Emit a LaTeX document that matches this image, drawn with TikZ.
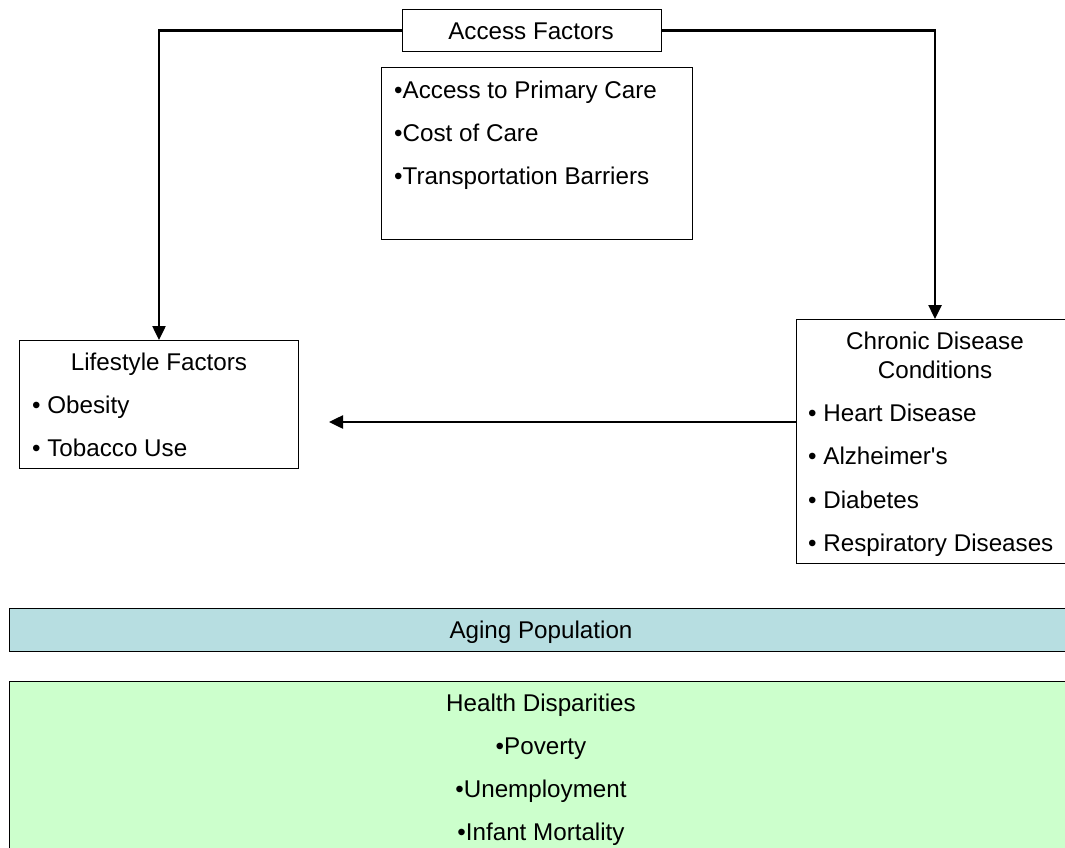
\documentclass[tikz,border=0pt]{standalone}
\usepackage{fontspec}
\setmainfont{Liberation Sans}[Ligatures=TeXOff]
\usetikzlibrary{arrows.meta}
\definecolor{agefill}{HTML}{B7DEE1}
\definecolor{healthfill}{HTML}{CCFFCC}
\tikzset{
  box/.style={draw=black, line width=1.2pt, inner sep=0pt, anchor=north west},
  txt/.style={inner sep=0pt, text height=17.5pt, text depth=0pt, font=\fontsize{24.2}{28}\selectfont},
  ltxt/.style={txt, anchor=west},
  conn/.style={draw=black, line width=2.5pt, -{Triangle[length=14pt,width=13pt]}},
}
\begin{document}
\begin{tikzpicture}[x=1pt,y=-1pt]
\useasboundingbox (0,0) rectangle (1065,848);
\begin{scope}
\clip (0,0) rectangle (1065,848);
% boxes
\node[box, minimum width=259pt, minimum height=42pt] (acc) at (402,9) {};
\node[box, minimum width=311pt, minimum height=172pt] (accl) at (381,67) {};
\node[box, minimum width=279pt, minimum height=128pt] (life) at (19,340) {};
\node[box, minimum width=275pt, minimum height=244pt] (chron) at (796,319) {};
\node[box, fill=agefill, minimum width=1070pt, minimum height=43pt] (aging) at (9,608) {};
\node[box, fill=healthfill, minimum width=1070pt, minimum height=180pt] (health) at (9,681) {};
% texts
\node[txt] (accT) at (531,31) {Access Factors};
\node[ltxt] (a1) at (394,90) {•Access to Primary Care};
\node[ltxt] (a2) at (394,133) {•Cost of Care};
\node[ltxt] (a3) at (394,176) {•Transportation Barriers};
\node[txt] (lifeT) at (159,362) {Lifestyle Factors};
\node[ltxt] (l1) at (32,405) {• Obesity};
\node[ltxt] (l2) at (32,448) {• Tobacco Use};
\node[txt] (chT1) at (935,341) {Chronic Disease};
\node[txt] (chT2) at (935,370) {Conditions};
\node[ltxt] (c1) at (808,413) {• Heart Disease};
\node[ltxt] (c2) at (808,456) {• Alzheimer's};
\node[ltxt] (c3) at (808,500) {• Diabetes};
\node[ltxt] (c4) at (808,543) {• Respiratory Diseases};
\node[txt] (agT) at (541,630) {Aging Population};
\node[txt] (hT) at (541,703) {Health Disparities};
\node[txt] (h1) at (541,746) {•Poverty};
\node[txt] (h2) at (541,789) {•Unemployment};
\node[txt] (h3) at (541,832) {•Infant Mortality};
% connectors
\coordinate (tip) at (329,422);
\draw[conn] (acc.west) -| (life.north -| 159,0);
\draw[conn] (acc.east) -| (chron.north -| 935,0);
\draw[conn] (chron.west |- 0,422) -- (tip);
\end{scope}
\end{tikzpicture}
\end{document}
